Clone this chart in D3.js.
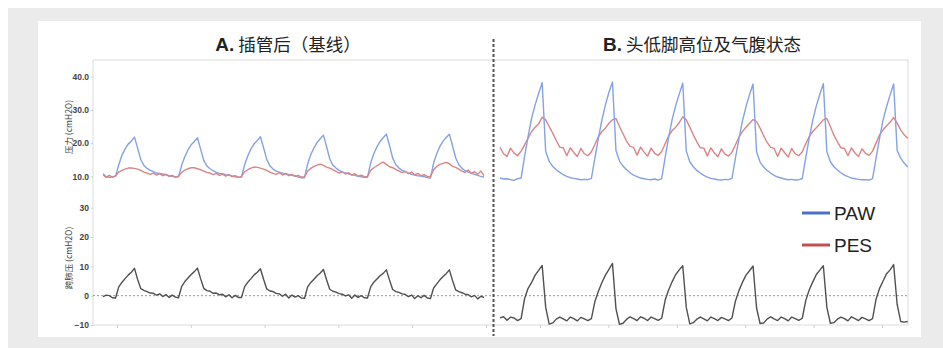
<!DOCTYPE html>
<html>
<head>
<meta charset="utf-8">
<script src="https://cdn.jsdelivr.net/npm/d3@7/dist/d3.min.js"></script>
<style>
  body { margin: 0; background: #fff; }
  svg { display: block; font-family: "Liberation Sans", Arial, sans-serif; }
  .cjk { font-family: "Noto Sans CJK SC", "Liberation Sans", sans-serif; }
</style>
</head>
<body>
<svg id="chart" width="943" height="348"></svg>
<script>
// panel titles
var titleA = {tag: 'A.', text: ' 插管后（基线）'};
var titleB = {tag: 'B.', text: ' 头低脚高位及气腹状态'};
var legendItems = ['PAW', 'PES'];
var pressTicks = [10, 20, 30, 40];
var tpTicks = [-10, 0, 10, 20, 30];
var timeTicks = [0, 5, 10, 15, 20, 25];

// A. after intubation (baseline) - airway pressure, cmH2O
var pawA = [
  10.8, 9.9, 9.7, 9.8,
  10.0, 13.5, 16.3, 18.2, 19.7, 20.6, 21.8, 18.5, 15.0, 13.3, 12.4, 11.8, 11.4, 11.0, 10.9, 10.7, 10.5, 10.2, 10.0, 9.8,
  9.9, 13.4, 16.0, 18.0, 19.5, 20.5, 21.6, 18.2, 14.8, 13.1, 12.3, 11.7, 11.2, 10.9, 10.8, 10.5, 10.4, 10.1, 9.9, 9.7,
  9.8, 13.6, 16.2, 18.3, 19.8, 20.8, 21.9, 18.6, 15.1, 13.2, 12.2, 11.6, 11.3, 11.0, 10.7, 10.6, 10.3, 10.2, 9.8, 9.6,
  9.6, 13.8, 16.6, 18.6, 20.2, 21.3, 22.4, 19.0, 15.3, 13.4, 12.5, 11.8, 11.3, 11.0, 10.8, 10.5, 10.3, 10.0, 9.9, 9.7,
  9.7, 14.0, 16.8, 18.9, 20.5, 21.6, 22.7, 19.3, 15.5, 13.5, 12.5, 11.8, 11.4, 11.0, 10.6, 10.4, 10.2, 10.1, 9.9, 9.6,
  9.5, 14.0, 16.9, 19.0, 20.6, 21.7, 22.7, 19.2, 15.6, 13.5, 12.4, 11.7, 11.3, 10.9, 10.6, 10.3, 10.0, 9.8
];
// A. oesophageal pressure
var pesA = [
  10.5, 9.7, 10.3, 9.8,
  10.2, 11.3, 11.8, 12.2, 12.5, 12.5, 12.4, 12.2, 11.8, 11.3, 11.0, 10.6, 11.0, 10.4, 10.8, 10.2, 10.6, 10.0, 10.3, 9.8,
  10.1, 11.2, 11.9, 12.3, 12.6, 12.6, 12.3, 12.0, 11.6, 11.2, 11.0, 10.5, 10.9, 10.3, 10.7, 10.1, 10.5, 9.9, 10.2, 9.7,
  10.0, 11.4, 12.0, 12.5, 12.8, 12.7, 12.5, 12.2, 11.8, 11.3, 10.9, 10.6, 11.1, 10.4, 10.9, 10.2, 10.6, 10.0, 10.3, 9.8,
  9.9, 11.6, 12.4, 13.0, 13.4, 13.7, 13.3, 12.8, 12.5, 12.0, 11.5, 11.0, 11.4, 10.7, 11.1, 10.4, 10.8, 10.1, 10.4, 9.9,
  10.0, 11.8, 12.6, 13.2, 13.8, 14.3, 13.6, 12.9, 12.6, 12.1, 11.6, 11.1, 11.5, 10.8, 11.3, 10.5, 10.9, 10.2, 10.5, 9.9,
  10.0, 12.0, 13.0, 13.6, 13.9, 14.2, 13.8, 13.0, 12.7, 12.2, 11.6, 11.2, 11.9, 10.9, 11.4, 10.6, 11.6, 10.2
];
// A. transpulmonary pressure
var tpA = [
  -0.3, 0.2, 0.0, -0.7,
  -0.8, 3.0, 4.5, 5.8, 7.0, 8.0, 9.3, 5.5, 2.4, 1.8, 1.4, 0.9, 0.8, 0.2, 0.6, -0.3, 0.4, -0.6, 0.2, -0.5,
  -0.7, 3.2, 4.8, 6.0, 7.2, 8.2, 9.4, 5.8, 2.5, 1.7, 1.5, 0.8, 0.9, 0.3, 0.5, -0.4, 0.3, -0.7, 0.1, -0.6,
  -0.6, 3.1, 4.6, 5.8, 7.1, 8.0, 9.2, 5.6, 2.3, 1.6, 1.4, 0.8, 0.6, -0.2, 0.5, -0.8, 0.2, -0.5, 0.0, -0.8,
  -0.9, 3.0, 4.5, 5.6, 6.8, 7.7, 8.9, 5.4, 2.2, 1.5, 1.2, 0.7, 0.5, -0.1, 0.3, -0.9, 0.2, -0.6, 0.0, -0.7,
  -0.8, 3.0, 4.6, 5.7, 6.8, 7.6, 8.8, 5.3, 2.1, 1.4, 1.1, 0.6, 0.4, -0.3, 0.2, -1.0, 0.0, -0.7, 0.1, -0.8,
  -1.0, 2.6, 4.0, 5.4, 6.5, 7.5, 8.8, 5.2, 2.0, 1.4, 1.0, 0.5, 0.3, -0.4, 0.1, -1.1, -0.2, -0.6
];

// B. Trendelenburg + pneumoperitoneum
var pawB = [
  9.5, 9.2, 9.3, 9.0, 8.8, 9.3,
  9.5, 16.0, 22.0, 27.5, 31.5, 35.0, 38.2, 17.5, 14.5, 13.0, 12.0, 11.2, 10.5, 10.0, 9.6, 9.4, 9.2, 9.0, 9.1, 9.0,
  9.4, 15.5, 21.5, 27.0, 31.5, 35.3, 38.4, 17.8, 14.6, 13.1, 12.0, 11.1, 10.4, 9.9, 9.5, 9.3, 9.1, 9.0, 9.2, 8.9,
  9.3, 15.8, 21.8, 27.2, 31.3, 34.8, 38.0, 17.6, 14.4, 12.9, 11.8, 11.0, 10.3, 9.8, 9.4, 9.2, 9.0, 8.9, 9.1, 9.0,
  9.4, 15.6, 21.4, 26.8, 31.0, 34.6, 37.8, 17.4, 14.3, 12.8, 11.8, 11.0, 10.3, 9.8, 9.5, 9.2, 9.0, 9.1, 8.9, 9.0,
  9.3, 15.7, 21.6, 27.0, 31.2, 34.7, 37.9, 17.5, 14.4, 12.9, 11.9, 11.1, 10.4, 9.9, 9.5, 9.3, 9.1, 9.0, 9.0, 8.9,
  9.3, 15.5, 21.5, 27.0, 31.0, 34.5, 37.8, 17.8, 15.5, 14.0, 12.8
];
var pesB = [
  18.7, 16.8, 16.0, 18.5, 17.0, 16.2,
  17.6, 19.5, 21.5, 23.5, 24.8, 25.8, 27.8, 27.0, 25.0, 23.0, 20.8, 18.8, 18.6, 16.2, 18.6, 17.2, 16.0, 18.4, 16.8, 16.2,
  17.4, 19.6, 22.0, 23.5, 24.5, 26.0, 27.0, 27.4, 25.0, 22.8, 20.6, 19.0, 18.7, 16.4, 18.8, 17.3, 16.1, 18.5, 16.9, 16.3,
  17.5, 19.8, 22.2, 23.8, 24.8, 26.2, 27.9, 27.0, 24.8, 22.5, 20.4, 18.6, 18.5, 16.1, 18.6, 17.0, 15.9, 18.3, 16.7, 16.1,
  17.3, 19.5, 21.8, 23.5, 24.8, 26.0, 27.1, 26.5, 24.5, 22.3, 20.2, 18.7, 18.4, 16.0, 18.5, 17.1, 15.8, 18.4, 16.8, 16.2,
  17.4, 19.8, 22.0, 23.5, 24.6, 25.8, 27.0, 27.4, 25.0, 22.4, 20.4, 18.6, 18.4, 16.2, 18.6, 17.0, 16.0, 18.3, 16.9, 16.3,
  17.6, 20.0, 22.5, 24.0, 25.2, 26.3, 27.7, 26.0, 24.0, 22.5, 21.5
];
var tpB = [
  -7.6, -7.2, -8.4, -7.3, -7.6, -8.5,
  -7.8, -1.0, 2.5, 4.5, 7.0, 8.6, 10.3, -4.0, -9.7, -9.3, -8.0, -7.3, -7.9, -8.6, -7.3, -7.8, -8.6, -7.4, -7.9, -8.5,
  -7.8, -2.0, 1.5, 4.5, 7.0, 9.0, 11.0, -4.5, -9.8, -9.4, -8.1, -7.2, -7.8, -8.5, -7.2, -7.7, -8.5, -7.3, -7.8, -8.4,
  -7.7, -1.5, 2.0, 4.8, 7.2, 8.8, 10.2, -4.0, -9.6, -9.2, -8.0, -7.3, -7.9, -8.6, -7.3, -7.8, -8.5, -7.4, -7.9, -8.5,
  -7.6, -1.8, 1.8, 4.6, 7.0, 8.5, 10.1, -4.2, -9.5, -9.3, -8.0, -7.2, -7.9, -8.5, -7.3, -7.8, -8.6, -7.3, -7.8, -8.4,
  -7.7, -1.6, 2.0, 4.7, 7.2, 8.7, 10.2, -4.0, -9.4, -9.2, -8.0, -7.3, -7.8, -8.6, -7.2, -7.8, -8.5, -7.4, -7.9, -8.5,
  -7.8, -1.2, 2.5, 5.0, 7.5, 8.8, 10.6, -3.0, -8.8, -9.0, -8.8
];

var colors = {paw: '#84a2e4', pes: '#db8486', tp: '#505050', pawKey: '#4a72c8', pesKey: '#c0504f'};

var svg = d3.select('#chart');

// backdrop + white card
svg.append('rect').attr('x', 8).attr('y', 8).attr('width', 935).attr('height', 340).attr('fill', '#ebebeb');
svg.append('rect').attr('x', 38).attr('y', 21).attr('width', 883).attr('height', 316).attr('fill', '#fff');

var plot = {left: 93, right: 908, top: 60, mid: 193, bottom: 325};

var yTop = d3.scaleLinear().domain([5, 45]).range([plot.mid, plot.top]);
var yBot = d3.scaleLinear().domain([-10, 35]).range([plot.bottom, plot.mid]);
var xA = d3.scaleLinear().domain([0, pawA.length - 1]).range([103, 484]);
var xB = d3.scaleLinear().domain([0, pawB.length - 1]).range([500, 907.7]);
var tA = d3.scaleLinear().domain([0, 25]).range([117, 486]);
var tB = d3.scaleLinear().domain([0, 25]).range([540, 882]);

// frame
svg.append('rect')
  .attr('x', plot.left).attr('y', plot.top)
  .attr('width', plot.right - plot.left).attr('height', plot.bottom - plot.top)
  .attr('fill', 'none').attr('stroke', '#dcdcdc').attr('stroke-width', 1);

// y axes
function yAxis(scale, vals, fmt) {
  var g = svg.append('g').attr('transform', 'translate(' + plot.left + ',0)')
    .call(d3.axisLeft(scale).tickValues(vals).tickFormat(fmt).tickSize(2).tickPadding(2));
  g.select('.domain').remove();
  g.selectAll('line').attr('stroke', '#ccc');
  g.selectAll('text').attr('font-size', 8.5).attr('font-weight', 'bold')
    .attr('fill', '#444').attr('font-family', '"Liberation Sans", Arial, sans-serif');
}
yAxis(yTop, pressTicks, d3.format('.1f'));
yAxis(yBot, tpTicks, d3.format('d'));

// bottom ticks (no labels)
[tA, tB].forEach(function(s) {
  var g = svg.append('g').attr('transform', 'translate(0,' + plot.bottom + ')')
    .call(d3.axisBottom(s).tickValues(timeTicks).tickFormat('').tickSize(3));
  g.select('.domain').remove();
  g.selectAll('line').attr('stroke', '#d0d0d0');
});

// axis titles
svg.append('text').attr('class', 'cjk')
  .attr('transform', 'translate(72,' + 127 + ') rotate(-90)')
  .attr('text-anchor', 'middle').attr('font-size', 8.5).attr('fill', '#444')
  .text('压力 (cmH2O)');
svg.append('text').attr('class', 'cjk')
  .attr('transform', 'translate(72,' + 258 + ') rotate(-90)')
  .attr('text-anchor', 'middle').attr('font-size', 8.5).attr('fill', '#444')
  .text('跨肺压 (cmH2O)');

// zero reference line
svg.append('line')
  .attr('x1', plot.left).attr('x2', plot.right)
  .attr('y1', yBot(0)).attr('y2', yBot(0))
  .attr('stroke', '#9a9a9a').attr('stroke-width', 1).attr('stroke-dasharray', '2,2');

// traces
function trace(data, x, y, color, w) {
  var line = d3.line().x(function(d, i) { return x(i); }).y(function(d) { return y(d); });
  svg.append('path').datum(data).attr('d', line)
    .attr('fill', 'none').attr('stroke', color).attr('stroke-width', w)
    .attr('stroke-linejoin', 'round');
}
trace(pawA, xA, yTop, colors.paw, 1.4);
trace(pesA, xA, yTop, colors.pes, 1.4);
trace(tpA, xA, yBot, colors.tp, 1.4);
trace(pesB, xB, yTop, colors.pes, 1.4);
trace(pawB, xB, yTop, colors.paw, 1.4);
trace(tpB, xB, yBot, colors.tp, 1.4);

// divider
svg.append('line')
  .attr('x1', 493.5).attr('x2', 493.5).attr('y1', 39).attr('y2', 336)
  .attr('stroke', '#555').attr('stroke-width', 2).attr('stroke-dasharray', '3,2');

// titles
[[titleA, 288], [titleB, 702]].forEach(function(t) {
  var txt = svg.append('text').attr('x', t[1]).attr('y', 51)
    .attr('text-anchor', 'middle').attr('fill', '#222');
  txt.append('tspan').attr('font-weight', 'bold').attr('font-size', 19)
    .attr('font-family', '"Liberation Sans", Arial, sans-serif').text(t[0].tag);
  txt.append('tspan').attr('class', 'cjk').attr('font-size', 17.5).text(t[0].text);
});

// legend
var keyCols = [colors.pawKey, colors.pesKey];
legendItems.forEach(function(name, i) {
  var y = 213 + i * 32;
  svg.append('line').attr('x1', 802).attr('x2', 830).attr('y1', y).attr('y2', y)
    .attr('stroke', keyCols[i]).attr('stroke-width', 3);
  svg.append('text').attr('x', 834).attr('y', y + 7)
    .attr('font-size', 19).attr('fill', '#222').text(name);
});
</script>
</body>
</html>
